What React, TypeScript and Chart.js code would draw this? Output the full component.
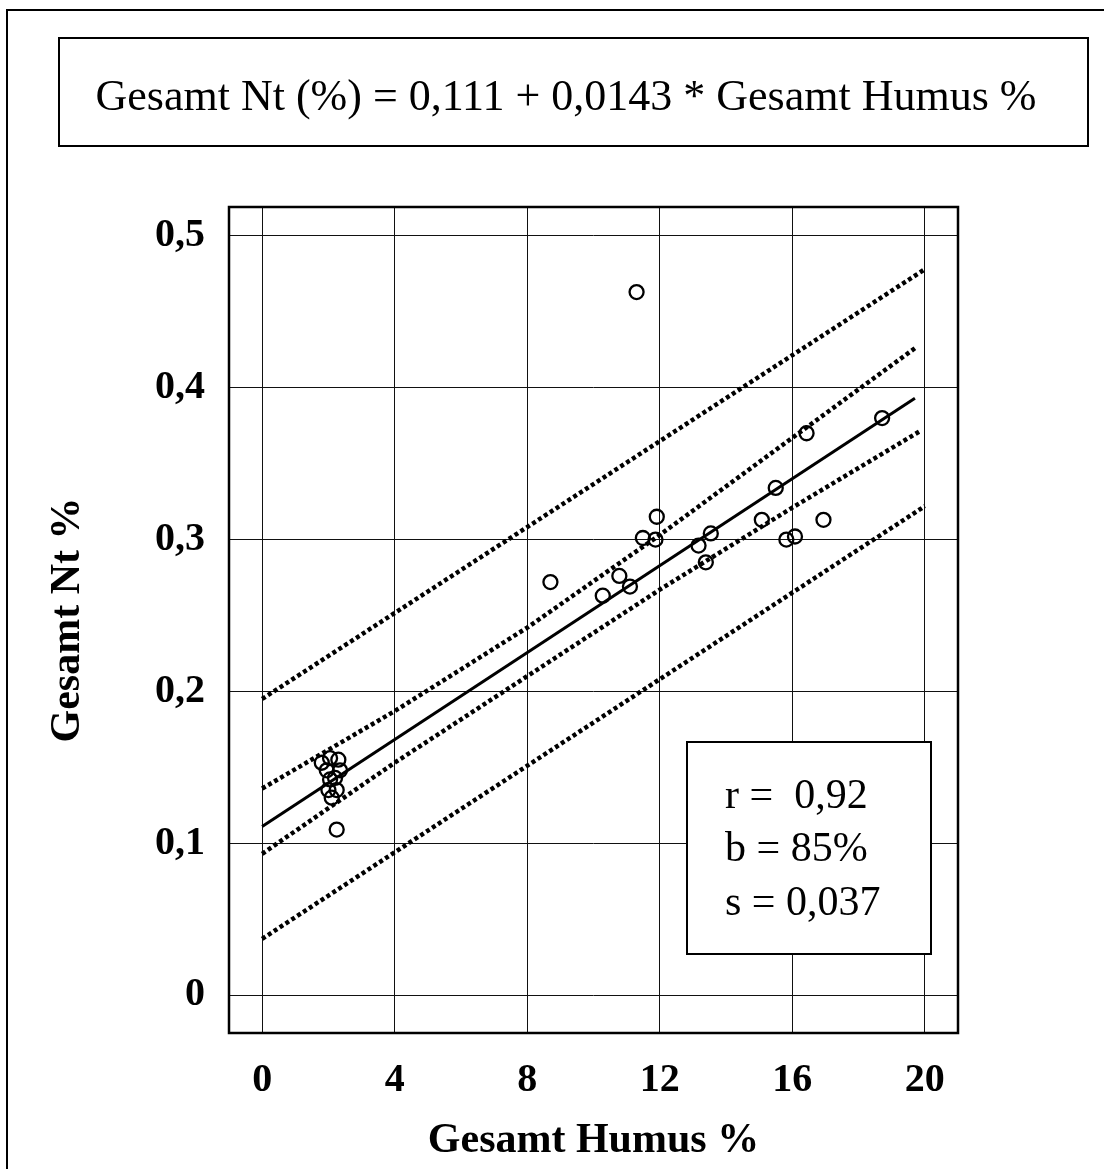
import React, { useEffect, useRef } from "react";
import { Chart, registerables } from "chart.js";

Chart.register(...registerables);

// ---- data ----
const HUMUS = [
  1.8, 2.05, 2.3, 1.95, 2.35, 2.05, 2.2, 2.0, 2.25, 2.1, 2.25,
  8.7, 10.28, 10.78, 11.1, 11.3, 11.49, 11.87, 11.91, 13.17, 13.39, 13.54,
  15.08, 15.5, 15.82, 16.08, 16.43, 16.94, 18.71,
];
const NT = [
  0.153, 0.156, 0.155, 0.148, 0.148, 0.142, 0.143, 0.135, 0.135, 0.13, 0.109,
  0.272, 0.263, 0.276, 0.269, 0.463, 0.301, 0.3, 0.315, 0.296, 0.285, 0.304,
  0.313, 0.334, 0.3, 0.302, 0.37, 0.313, 0.38,
];

const REG_X = [0, 19.7];
const REG_Y = [0.111, 0.393];
const CONF_UP_X = [0, 4, 8, 12, 16, 19.7];
const CONF_UP_Y = [0.136, 0.187, 0.242, 0.303, 0.367, 0.426];
const CONF_LO_X = [0, 4, 8, 12, 16, 19.9];
const CONF_LO_Y = [0.093, 0.153, 0.21, 0.267, 0.321, 0.372];
const PRED_UP_X = [0, 20];
const PRED_UP_Y = [0.195, 0.478];
const PRED_LO_X = [0, 20];
const PRED_LO_Y = [0.037, 0.322];

const X_TICKS = [0, 4, 8, 12, 16, 20];
const X_TICK_LABELS = ["0", "4", "8", "12", "16", "20"];
const Y_TICKS = [0, 0.1, 0.2, 0.3, 0.4, 0.5];
const Y_TICK_LABELS = ["0", "0,1", "0,2", "0,3", "0,4", "0,5"];

const X_TITLE = "Gesamt Humus %";
const Y_TITLE = "Gesamt Nt %";
const EQUATION = "Gesamt Nt (%) = 0,111 + 0,0143 * Gesamt Humus %";
const STATS = ["r =  0,92", "b = 85%", "s = 0,037"];

const SERIF = '"Liberation Serif", "Times New Roman", Times, serif';

const pts = (xs: number[], ys: number[]) => xs.map((x, i) => ({ x, y: ys[i] }));
const labelFor = (ticks: number[], labels: string[], v: number) => {
  const i = ticks.findIndex((t) => Math.abs(t - v) < 1e-9);
  return i >= 0 ? labels[i] : "";
};

const decorPlugin = {
  id: "decor",
  afterDraw(chart: any) {
    const ctx = chart.ctx as CanvasRenderingContext2D;
    const { left, top, right, bottom } = chart.chartArea;
    ctx.save();
    ctx.strokeStyle = "#000";
    ctx.fillStyle = "#000";
    // outer frame (only left & top visible)
    ctx.lineWidth = 2;
    ctx.strokeRect(7, 10, 1200, 1300);
    // equation box
    ctx.strokeRect(59, 38, 1029, 108);
    ctx.font = `44px ${SERIF}`;
    ctx.textAlign = "center";
    ctx.textBaseline = "alphabetic";
    ctx.fillText(EQUATION, 566, 110);
    // plot frame
    ctx.lineWidth = 2.5;
    ctx.strokeRect(left, top, right - left, bottom - top);
    // stats box
    ctx.fillStyle = "#fff";
    ctx.fillRect(687, 742, 244, 212);
    ctx.lineWidth = 2;
    ctx.strokeRect(687, 742, 244, 212);
    ctx.fillStyle = "#000";
    ctx.font = `42px ${SERIF}`;
    ctx.textAlign = "left";
    const baselines = [808, 861, 915];
    STATS.forEach((s, i) => ctx.fillText(s, 725, baselines[i]));
    ctx.restore();
  },
};

export default function App() {
  const ref = useRef<HTMLCanvasElement>(null);

  useEffect(() => {
    if (!ref.current) return;
    const dotted = {
      borderColor: "#000",
      borderWidth: 4.5,
      borderDash: [4, 3],
      borderCapStyle: "butt",
      pointRadius: 0,
      showLine: true,
      fill: false,
    };
    const chart = new Chart(ref.current, {
      type: "scatter",
      data: {
        datasets: [
          { ...dotted, data: pts(PRED_UP_X, PRED_UP_Y) },
          { ...dotted, data: pts(CONF_UP_X, CONF_UP_Y) },
          {
            data: pts(REG_X, REG_Y),
            borderColor: "#000",
            borderWidth: 3,
            pointRadius: 0,
            showLine: true,
          },
          { ...dotted, data: pts(CONF_LO_X, CONF_LO_Y) },
          { ...dotted, data: pts(PRED_LO_X, PRED_LO_Y) },
          {
            data: pts(HUMUS, NT),
            pointRadius: 7,
            pointBorderWidth: 2.3,
            pointBorderColor: "#000",
            pointBackgroundColor: "rgba(0,0,0,0)",
            showLine: false,
          },
        ] as any,
      },
      options: {
        animation: false,
        responsive: false,
        events: [],
        layout: { padding: { top: 207, right: 146, bottom: 0, left: 0 } },
        plugins: {
          legend: { display: false },
          tooltip: { enabled: false },
          title: { display: false },
        },
        scales: {
          x: {
            type: "linear",
            min: -1,
            max: 21,
            afterBuildTicks: (s: any) => {
              s.ticks = X_TICKS.map((v) => ({ value: v }));
            },
            afterFit: (s: any) => {
              s.height = 136;
            },
            ticks: {
              callback: (v: any) => labelFor(X_TICKS, X_TICK_LABELS, Number(v)),
              font: { family: SERIF, size: 40, weight: "bold" },
              color: "#000",
              padding: 24,
              autoSkip: false,
              maxRotation: 0,
            },
            grid: { color: "#111", lineWidth: 1, drawTicks: false },
            border: { display: false },
            title: {
              display: true,
              text: X_TITLE,
              color: "#000",
              font: { family: SERIF, size: 42, weight: "bold" },
              padding: { top: 0, bottom: 3 },
            },
          },
          y: {
            type: "linear",
            min: -0.025,
            max: 0.519,
            afterBuildTicks: (s: any) => {
              s.ticks = Y_TICKS.map((v) => ({ value: v }));
            },
            afterFit: (s: any) => {
              s.width = 229;
            },
            ticks: {
              callback: (v: any) => labelFor(Y_TICKS, Y_TICK_LABELS, Number(v)),
              font: { family: SERIF, size: 40, weight: "bold" },
              color: "#000",
              padding: 24,
              autoSkip: false,
            },
            grid: { color: "#111", lineWidth: 1, drawTicks: false },
            border: { display: false },
            title: {
              display: true,
              text: Y_TITLE,
              color: "#000",
              font: { family: SERIF, size: 42, weight: "bold" },
              padding: { top: 43, bottom: 0 },
            },
          },
        },
      } as any,
      plugins: [decorPlugin],
    });
    return () => chart.destroy();
  }, []);

  return (
    <div
      style={{
        position: "fixed",
        left: 0,
        top: 0,
        width: 1104,
        height: 1169,
        background: "#fff",
      }}
    >
      <canvas ref={ref} width={1104} height={1169} style={{ display: "block" }} />
    </div>
  );
}
